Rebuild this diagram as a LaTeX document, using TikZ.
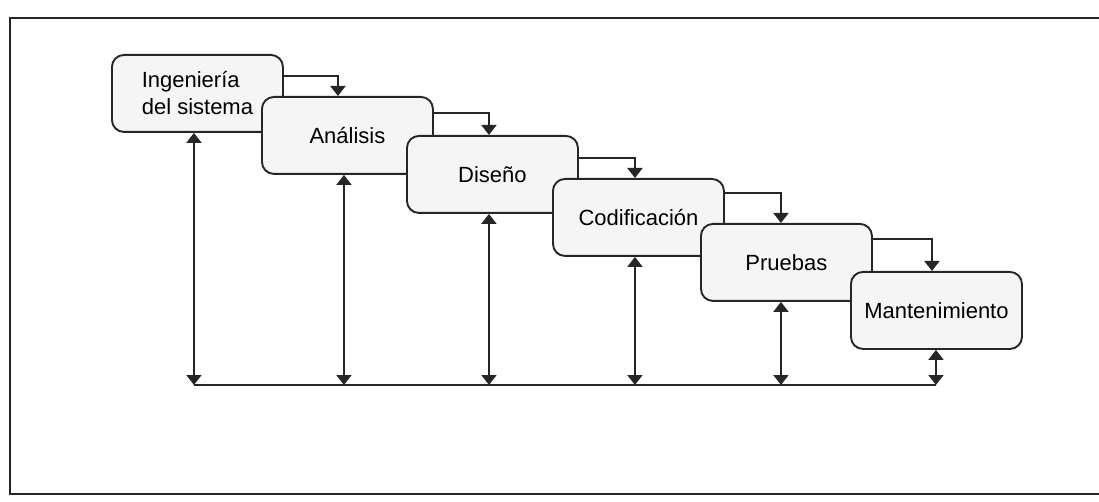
\documentclass[tikz,border=0pt]{standalone}
\usepackage{fontspec}
\setmainfont{Liberation Sans}
\usetikzlibrary{arrows.meta}

\begin{document}
\begin{tikzpicture}[x=1pt,y=-1pt,
  phase/.style={draw=black!85, line width=1.9pt, fill=black!4,
    rounded corners=12pt, minimum width=171pt, minimum height=77pt,
    anchor=north west, inner sep=2pt, align=center,
    font=\fontsize{22}{27}\selectfont},
  flow/.style={draw=black!85, line width=1.8pt,
    -{Triangle[width=15pt,length=10pt]}},
  feedback/.style={draw=black!85, line width=1.8pt,
    {Triangle[width=15pt,length=10pt]}-{Triangle[width=15pt,length=10pt]}},
  bus/.style={draw=black!85, line width=2pt},
  frame/.style={draw=black!85, line width=2pt}]

  % page area
  \useasboundingbox (0,0) rectangle (1099,502);
  \clip (0,0) rectangle (1099,502);

  % outer frame (its right side lies beyond the page)
  \draw[frame] (10,18) rectangle (1120,494);

  % bottom line that collects the feedback paths
  \coordinate (bus) at (0,385);

  % phases of the cascade
  \node[phase, align=left] (b1) at (111,54)  {Ingeniería\\del sistema};
  \node[phase] (b2) at (261,96)  {Análisis};
  \node[phase] (b3) at (406,135) {Diseño};
  \node[phase] (b4) at (552,178) {Codificación};
  \node[phase] (b5) at (700,223) {Pruebas};
  \node[phase] (b6) at (850,271) {Mantenimiento};

  % each phase hands over to the next one
  \draw[flow] ([yshift=-22pt]b1.north east) -| ([xshift=-9.5pt]b2.north);
  \draw[flow] ([yshift=-17pt]b2.north east) -| ([xshift=-3.5pt]b3.north);
  \draw[flow] ([yshift=-23pt]b3.north east) -| ([xshift=-3.5pt]b4.north);
  \draw[flow] ([yshift=-15pt]b4.north east) -| ([xshift=-5.5pt]b5.north);
  \draw[flow] ([yshift=-16pt]b5.north east) -| ([xshift=-4.5pt]b6.north);

  % feedback between every phase and the common line
  \coordinate (busL) at ([xshift=-3.5pt]b1.south |- bus);
  \coordinate (busR) at ([xshift=-0.5pt]b6.south |- bus);
  \draw[bus] (busL) -- (busR);

  \draw[feedback] ([xshift=-3.5pt]b1.south) -- (busL);
  \draw[feedback] ([xshift=-3.5pt]b2.south) -- ([xshift=-3.5pt]b2.south |- bus);
  \draw[feedback] ([xshift=-3.5pt]b3.south) -- ([xshift=-3.5pt]b3.south |- bus);
  \draw[feedback] ([xshift=-3.5pt]b4.south) -- ([xshift=-3.5pt]b4.south |- bus);
  \draw[feedback] ([xshift=-5.5pt]b5.south) -- ([xshift=-5.5pt]b5.south |- bus);
  \draw[feedback] ([xshift=-0.5pt]b6.south) -- (busR);
\end{tikzpicture}
\end{document}
